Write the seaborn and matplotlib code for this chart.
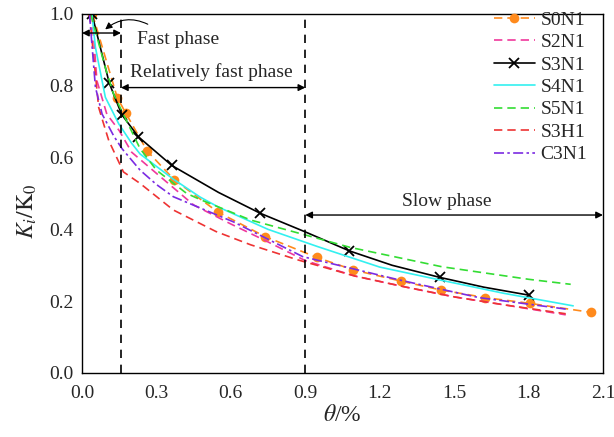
import pandas as pd
import matplotlib
matplotlib.use("Agg")
import matplotlib.pyplot as plt
import seaborn as sns
from matplotlib.lines import Line2D
from matplotlib.ticker import MultipleLocator

# theta (%) and K_i/K_0
theta_s0n1 = [0.042, 0.142, 0.177, 0.263, 0.372, 0.548, 0.738, 0.946, 1.094, 1.285, 1.448, 1.625, 1.804, 2.051]
k_s0n1 = [1.0, 0.767, 0.723, 0.618, 0.538, 0.448, 0.380, 0.322, 0.287, 0.256, 0.231, 0.210, 0.194, 0.169]

theta_s2n1 = [0.04, 0.06, 0.10, 0.15, 0.20, 0.30, 0.45, 0.60, 0.75, 0.90, 1.10, 1.30, 1.50, 1.70, 1.95]
k_s2n1 = [1.0, 0.814, 0.721, 0.675, 0.615, 0.556, 0.468, 0.415, 0.365, 0.313, 0.270, 0.240, 0.212, 0.190, 0.162]

# S3N1: curve points; crosses sit on the measured ones (see markevery below)
theta_s3n1 = [0.04, 0.11, 0.16, 0.227, 0.362, 0.55, 0.718, 0.90, 1.078, 1.25, 1.444, 1.62, 1.80]
k_s3n1 = [1.0, 0.807, 0.72, 0.658, 0.578, 0.503, 0.445, 0.393, 0.34, 0.30, 0.266, 0.239, 0.217]
s3n1_marked = [0, 1, 2, 3, 4, 6, 8, 10, 12]

theta_s4n1 = [0.04, 0.054, 0.094, 0.121, 0.148, 0.20, 0.234, 0.368, 0.476, 0.55, 0.75, 0.95, 1.20, 1.45, 1.70, 1.98]
k_s4n1 = [1.0, 0.907, 0.768, 0.731, 0.694, 0.64, 0.61, 0.54, 0.49, 0.462, 0.40, 0.352, 0.295, 0.258, 0.222, 0.187]

theta_s5n1 = [0.035, 0.093, 0.126, 0.16, 0.234, 0.30, 0.422, 0.48, 0.68, 0.95, 1.08, 1.45, 1.80, 1.97]
k_s5n1 = [1.0, 0.853, 0.779, 0.73, 0.625, 0.565, 0.50, 0.482, 0.426, 0.375, 0.35, 0.296, 0.261, 0.247]

theta_s3h1 = [0.03, 0.067, 0.087, 0.108, 0.167, 0.234, 0.368, 0.54, 0.68, 0.87, 1.10, 1.30, 1.50, 1.70, 1.95]
k_s3h1 = [1.0, 0.74, 0.694, 0.647, 0.56, 0.528, 0.454, 0.394, 0.357, 0.315, 0.270, 0.240, 0.212, 0.190, 0.165]

theta_c3n1 = [0.03, 0.054, 0.081, 0.128, 0.161, 0.234, 0.30, 0.368, 0.61, 0.89, 1.28, 1.60, 1.95]
k_c3n1 = [1.0, 0.796, 0.721, 0.66, 0.625, 0.565, 0.525, 0.491, 0.421, 0.324, 0.259, 0.210, 0.178]

fast_end = 0.157
slow_start = 0.9

dash = (0, (5, 3))
dashdot = (0, (6, 2, 1.5, 2))
series = [
    ("S0N1", theta_s0n1, k_s0n1, "#FF8A1C", dash, "o"),
    ("S2N1", theta_s2n1, k_s2n1, "#F0389C", dash, None),
    ("S3N1", theta_s3n1, k_s3n1, "black", "-", "x"),
    ("S4N1", theta_s4n1, k_s4n1, "#33F0F0", "-", None),
    ("S5N1", theta_s5n1, k_s5n1, "#33DD33", dash, None),
    ("S3H1", theta_s3h1, k_s3h1, "#EE3333", dash, None),
    ("C3N1", theta_c3n1, k_c3n1, "#7B2BE2", dashdot, None),
]

sns.set_style("white")
plt.rcParams["font.family"] = ["Liberation Serif", "DejaVu Serif"]
plt.rcParams["mathtext.fontset"] = "stix"

fig = plt.figure(figsize=(6.14, 4.37), dpi=100)
ax = fig.add_axes([0.1336, 0.1465, 0.8484, 0.8215])


def marker_kw(marker, color):
    if marker == "o":
        return dict(marker="o", markersize=7, markeredgewidth=0,
                    markeredgecolor=color, markerfacecolor=color)
    if marker == "x":
        return dict(marker="x", markersize=7, markeredgewidth=1.3,
                    markeredgecolor=color)
    return {}


handles = []
for name, xs, ys, color, ls, marker in series:
    df = pd.DataFrame({"theta": xs, "k": ys})
    kw = marker_kw(marker, color)
    if marker == "x":
        kw["markevery"] = s3n1_marked
    sns.lineplot(data=df, x="theta", y="k", ax=ax, color=color, linestyle=ls,
                 linewidth=1.2, sort=False, estimator=None, legend=False, **kw)
    handles.append(Line2D([], [], color=color, linestyle=ls, linewidth=1.2,
                          label=name, **marker_kw(marker, color)))

# phase boundaries
for xv in (fast_end, slow_start):
    ax.plot([xv, xv], [0, 1], color="black", linestyle=(0, (5, 4)), linewidth=1.2)

arrow = dict(arrowstyle="<|-|>", color="black", lw=1.0, mutation_scale=10,
             shrinkA=0, shrinkB=0)
ax.annotate("", xy=(0, 0.947), xytext=(fast_end, 0.947), arrowprops=arrow)
ax.annotate("", xy=(fast_end, 0.795), xytext=(slow_start, 0.795), arrowprops=arrow)
ax.annotate("", xy=(slow_start, 0.44), xytext=(2.1, 0.44), arrowprops=arrow)

ax.annotate("", xy=(0.085, 0.952), xytext=(0.275, 0.968),
            arrowprops=dict(arrowstyle="-|>", color="black", lw=0.8,
                            mutation_scale=10, connectionstyle="arc3,rad=0.35"))
ax.text(0.22, 0.928, "Fast phase", fontsize=14, va="center", ha="left")
ax.text(0.52, 0.838, "Relatively fast phase", fontsize=14, va="center", ha="center")
ax.text(1.47, 0.478, "Slow phase", fontsize=14, va="center", ha="center")

ax.set_xlim(0, 2.1)
ax.set_ylim(0, 1.0)
ax.xaxis.set_major_locator(MultipleLocator(0.3))
ax.xaxis.set_minor_locator(MultipleLocator(0.15))
ax.yaxis.set_major_locator(MultipleLocator(0.2))
ax.yaxis.set_minor_locator(MultipleLocator(0.1))
ax.tick_params(which="major", direction="in", length=5, width=1, labelsize=14,
               top=False, right=False)
ax.tick_params(which="minor", direction="in", length=3, width=1,
               top=False, right=False)
ax.tick_params(axis="x", pad=9)
ax.tick_params(axis="y", pad=6)
ax.set_xticklabels([f"{v:.1f}" for v in ax.get_xticks()])
ax.set_yticklabels([f"{v:.1f}" for v in ax.get_yticks()])
for sp in ax.spines.values():
    sp.set_color("black")
    sp.set_linewidth(1.0)

ax.set_xlabel(r"$\theta$/%", fontsize=17, labelpad=2)
ax.set_ylabel(r"$K_i/\mathrm{K}_0$", fontsize=17)
ax.yaxis.set_label_coords(-0.083, 0.45)

ax.legend(handles=handles, loc="upper right", frameon=False, fontsize=14,
          handlelength=2.1, handletextpad=0.3, labelspacing=0.25,
          borderaxespad=0, borderpad=0.4, bbox_to_anchor=(0.985, 1.03))

fig.savefig("out.png", dpi=100)
